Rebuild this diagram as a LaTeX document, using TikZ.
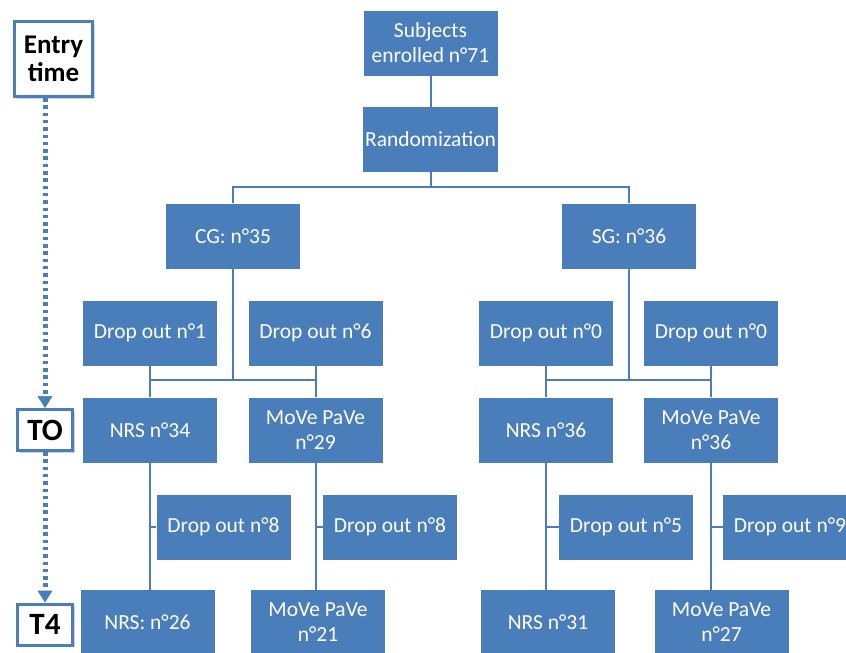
\documentclass[tikz,border=0pt]{standalone}
\usepackage{fontspec}
\setmainfont{Carlito}
\usetikzlibrary{arrows.meta,shadows}
\definecolor{boxblue}{RGB}{74,126,187}

\tikzset{
  flowbox/.style={fill=boxblue, text=white, minimum width=134pt, minimum height=65pt,
    align=center, inner sep=2pt, font=\fontsize{21.5}{25}\selectfont},
  timebox/.style={draw=boxblue, line width=3pt, fill=white, align=center, inner sep=1pt,
    font=\fontsize{27}{28}\selectfont\bfseries,
    drop shadow={shadow xshift=2pt, shadow yshift=-2pt, opacity=0.35}},
  timelabel/.style={timebox, minimum width=55pt, minimum height=41pt,
    font=\fontsize{31}{32}\selectfont\bfseries},
  link/.style={draw=boxblue, line width=2pt},
  timeline/.style={draw=boxblue, line width=5pt, dash pattern=on 3.5pt off 3.8pt,
    -{Triangle[width=15pt,length=12pt,line width=0.5pt]}}
}

\begin{document}
\begin{tikzpicture}[x=1pt, y=-1pt]
    \useasboundingbox (0,0) rectangle (846,653);
    \clip (0,0) rectangle (846,653);

    \node[timebox, minimum width=78pt, minimum height=75pt] (entry) at (53.5, 59) {Entry\\time};
    \node[timelabel] (t0) at (45, 430) {TO};
    \node[timelabel] (t4) at (45, 624.5) {T4};

    \node[flowbox] (subj) at (430.5, 43) {Subjects\\enrolled n°71};
    \node[flowbox] (rand) at (430.5, 139.5) {Randomization};
    \node[flowbox] (cg) at (233, 236) {CG: n°35};
    \node[flowbox] (sg) at (629, 236) {SG: n°36};

    \node[flowbox] (cgdrop1) at (150, 333) {Drop out n°1};
    \node[flowbox] (cgdrop2) at (315.5, 333) {Drop out n°6};
    \node[flowbox] (sgdrop1) at (546, 333) {Drop out n°0};
    \node[flowbox] (sgdrop2) at (711, 333) {Drop out n°0};

    \node[flowbox] (cgnrs0) at (150, 430) {NRS n°34};
    \node[flowbox] (cgmove0) at (315.5, 430) {MoVe PaVe\\n°29};
    \node[flowbox] (sgnrs0) at (546, 430) {NRS n°36};
    \node[flowbox] (sgmove0) at (711, 430) {MoVe PaVe\\n°36};

    \node[flowbox] (cgdrop3) at (223.5, 527) {Drop out n°8};
    \node[flowbox] (cgdrop4) at (390, 527) {Drop out n°8};
    \node[flowbox] (sgdrop3) at (626, 527) {Drop out n°5};
    \node[flowbox] (sgdrop4) at (790, 527) {Drop out n°9};

    \node[flowbox] (cgnrs4) at (147.5, 622.5) {NRS: n°26};
    \node[flowbox] (cgmove4) at (318, 622.5) {MoVe PaVe\\n°21};
    \node[flowbox] (sgnrs4) at (548, 622.5) {NRS n°31};
    \node[flowbox] (sgmove4) at (721.5, 622.5) {MoVe PaVe\\n°27};

    \coordinate (randbar) at (430.5, 187);
    \coordinate (cgbar) at (233, 380);
    \coordinate (sgbar) at (629, 380);

    \draw[link] (subj) -- (rand);
    \draw[link] (rand) -- (randbar);
    \draw[link] (cg) |- (randbar) -| (sg);

    \draw[link] (cg) -- (cgbar);
    \draw[link] (cgnrs0) |- (cgbar) -| (cgmove0);
    \draw[link] (cgdrop1) -- (cgnrs0);
    \draw[link] (cgdrop2) -- (cgmove0);
    \draw[link] (sg) -- (sgbar);
    \draw[link] (sgnrs0) |- (sgbar) -| (sgmove0);
    \draw[link] (sgdrop1) -- (sgnrs0);
    \draw[link] (sgdrop2) -- (sgmove0);

    \draw[link] (cgnrs0) -- (cgnrs0 |- cgnrs4.north);
    \draw[link] (cgmove0) -- (cgmove0 |- cgmove4.north);
    \draw[link] (sgnrs0) -- (sgnrs0 |- sgnrs4.north);
    \draw[link] (sgmove0) -- (sgmove0 |- sgmove4.north);
    \draw[link] (cgdrop3) -- (cgdrop3.west -| cgnrs0);
    \draw[link] (cgdrop4) -- (cgdrop4.west -| cgmove0);
    \draw[link] (sgdrop3) -- (sgdrop3.west -| sgnrs0);
    \draw[link] (sgdrop4) -- (sgdrop4.west -| sgmove0);

    \draw[timeline] (entry.south -| t0) -- (t0);
    \draw[timeline] (t0) -- (t4);
\end{tikzpicture}
\end{document}
